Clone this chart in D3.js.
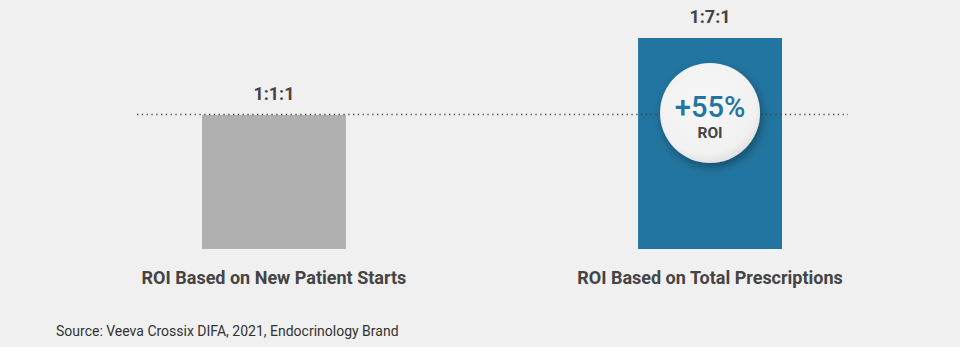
<!DOCTYPE html>
<html>
<head>
<meta charset="utf-8">
<script src="https://cdn.jsdelivr.net/npm/d3@7"></script>
<style>
  html, body { margin: 0; padding: 0; background: #f0f0f0; }
  svg { display: block; font-family: Roboto, "Noto Sans", sans-serif; }
</style>
</head>
<body>
<svg id="chart" width="960" height="347"></svg>
<script>
const categories = ["ROI Based on New Patient Starts", "ROI Based on Total Prescriptions"];
const values = [1.1, 1.7];
const valueLabels = ["1:1:1", "1:7:1"];
const barColors = ["#b0b0b0", "#2275a0"];
const badgeMain = "+55%";
const badgeSub = "ROI";
const sourceText = "Source: Veeva Crossix DIFA, 2021, Endocrinology Brand";

const svg = d3.select("#chart");
const W = 960, H = 347;
svg.append("rect").attr("width", W).attr("height", H).attr("fill", "#f0f0f0");

const defs = svg.append("defs");
const f = defs.append("filter").attr("id", "shadow").attr("x", "-40%").attr("y", "-40%").attr("width", "180%").attr("height", "180%");
f.append("feDropShadow").attr("dx", 2).attr("dy", 4).attr("stdDeviation", 5)
  .attr("flood-color", "#000").attr("flood-opacity", 0.35);
const g = defs.append("radialGradient").attr("id", "badgeGrad").attr("cx", "45%").attr("cy", "40%").attr("r", "60%");
g.append("stop").attr("offset", "0%").attr("stop-color", "#f7f7f7");
g.append("stop").attr("offset", "85%").attr("stop-color", "#f1f1f1");
g.append("stop").attr("offset", "100%").attr("stop-color", "#e2e2e2");

const x = d3.scaleBand().domain(categories).range([202, 782]).paddingInner(0.67).paddingOuter(0);
const baseY = 249;
const y = d3.scaleLinear().domain([0.0545, 1.7]).range([baseY, 38]);

// bars
svg.selectAll("rect.bar").data(categories).join("rect")
  .attr("class", "bar")
  .attr("x", d => x(d))
  .attr("width", x.bandwidth())
  .attr("y", (d, i) => y(values[i]))
  .attr("height", (d, i) => baseY - y(values[i]))
  .attr("fill", (d, i) => barColors[i]);

// dotted reference line at first value
const refY = Math.round(y(values[0])) - 0.5;
svg.append("line")
  .attr("x1", 137).attr("x2", 848)
  .attr("y1", refY).attr("y2", refY)
  .attr("stroke", "#444").attr("stroke-width", 1.3)
  .attr("stroke-dasharray", "1.3,3.5");

// value labels
svg.selectAll("text.val").data(categories).join("text")
  .attr("class", "val")
  .attr("x", d => x(d) + x.bandwidth() / 2)
  .attr("y", (d, i) => y(values[i]) - 15)
  .attr("text-anchor", "middle")
  .attr("font-size", 18).attr("font-weight", 700)
  .attr("fill", "#444")
  .text((d, i) => valueLabels[i]);

// category labels (axis)
const axis = d3.axisBottom(x).tickSize(0).tickPadding(0);
const ax = svg.append("g").attr("transform", `translate(0,${baseY})`).call(axis);
ax.select(".domain").remove();
ax.selectAll("text")
  .attr("y", 35).attr("dy", 0)
  .attr("font-family", "Roboto, sans-serif")
  .attr("font-size", 18).attr("font-weight", 700)
  .attr("fill", "#444");

// badge
const cx = x(categories[1]) + x.bandwidth() / 2;
const cy = y(values[0]) - 2;
svg.append("circle").attr("cx", cx).attr("cy", cy).attr("r", 50)
  .attr("fill", "url(#badgeGrad)").attr("filter", "url(#shadow)");
svg.append("text").attr("x", cx).attr("y", cy + 4)
  .attr("text-anchor", "middle").attr("font-size", 29).attr("font-weight", 500)
  .attr("fill", "#2275a0").text(badgeMain);
svg.append("text").attr("x", cx).attr("y", cy + 25)
  .attr("text-anchor", "middle").attr("font-size", 15.5).attr("font-weight", 700)
  .attr("fill", "#444").text(badgeSub);

// source
svg.append("text").attr("x", 56).attr("y", 336)
  .attr("font-size", 14).attr("fill", "#333").text(sourceText);
</script>
</body>
</html>
